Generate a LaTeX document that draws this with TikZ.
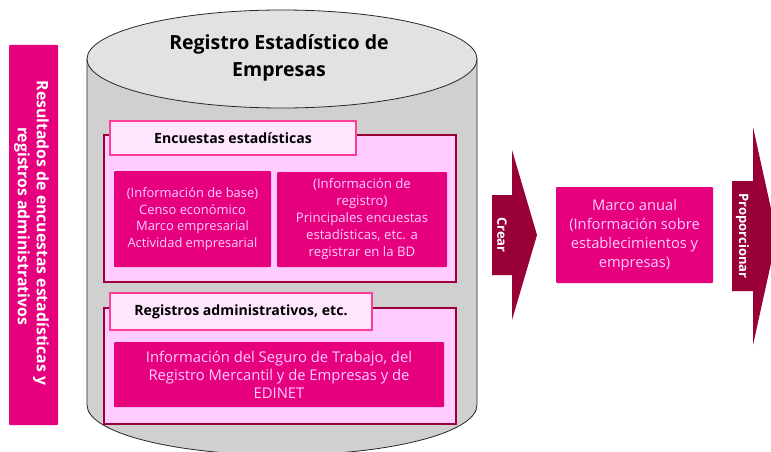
\documentclass[tikz,border=0pt]{standalone}
\usepackage{fontspec}
\setmainfont{Open Sans}
\definecolor{mag}{RGB}{230,0,126}
\definecolor{crim}{RGB}{153,0,56}
\definecolor{lpink}{RGB}{255,204,255}
\definecolor{tabfill}{RGB}{255,230,255}
\definecolor{hotpink}{RGB}{255,60,150}
\definecolor{cylbody}{RGB}{208,208,208}
\definecolor{cyltop}{RGB}{226,226,226}
\tikzset{
  magbox/.style={fill=mag, draw=none, rounded corners=1pt, inner sep=0pt, text=lpink, align=center},
  framebox/.style={fill=lpink, draw=crim, line width=1.5pt, inner sep=0pt},
  tabbox/.style={fill=tabfill, draw=hotpink, line width=1.5pt, inner sep=0pt, align=center},
  arrowshape/.style={fill=crim, draw=none},
  arrowtext/.style={text=white, font=\fontsize{13}{15}\selectfont\bfseries, rotate=-90},
  bartext/.style={text=white, font=\fontsize{15.8}{18}\selectfont\bfseries, rotate=-90, inner sep=0pt},
}
\begin{document}
\begin{tikzpicture}[x=1pt,y=-1pt]
\useasboundingbox (0,0) rectangle (771,452);
% left bar
\node[magbox, minimum width=49pt, minimum height=380pt] (leftbar) at (33.5,235) {};
\node[bartext] (lefttext1) at (41,233) {Resultados de encuestas estadísticas y};
\node[bartext] (lefttext2) at (22,226) {registros administrativos};
% cylinder
\path[draw=black!85, line width=0.8pt, fill=cylbody] (87,59) -- (87,405) arc[start angle=180, end angle=360, x radius=195pt, y radius=50pt] -- (477,59) -- cycle;
\draw[black!85, line width=0.8pt, fill=cyltop] (282,59) ellipse[x radius=195pt, y radius=49pt];
\node[align=center, font=\fontsize{19.5}{27}\selectfont\bfseries] (title) at (279,58) {Registro Estadístico de\\Empresas};
% encuestas group
\node[framebox, minimum width=352pt, minimum height=147pt] (encframe) at (280,208.5) {};
\node[tabbox, minimum width=246pt, minimum height=34pt, font=\fontsize{14.1}{17}\selectfont\bfseries] (enctab) at (233,138) {Encuestas estadísticas};
\node[magbox, minimum width=157pt, minimum height=96pt, font=\fontsize{12.9}{16.5}\selectfont] (base) at (192.5,219) {(Información de base)\\Censo económico\\Marco empresarial\\Actividad empresarial};
\node[magbox, minimum width=170pt, minimum height=95pt, font=\fontsize{13.2}{17}\selectfont] (regis) at (362,219.5) {(Información de\\registro)\\Principales encuestas\\estadísticas, etc. a\\registrar en la BD};
% registros group
\node[framebox, minimum width=352pt, minimum height=116pt] (regframe) at (280,366) {};
\node[tabbox, minimum width=262pt, minimum height=37pt, font=\fontsize{14.1}{17}\selectfont\bfseries] (regtab) at (241,311.5) {Registros administrativos, etc.};
\node[magbox, minimum width=330pt, minimum height=65pt, font=\fontsize{14.8}{18}\selectfont] (admin) at (279,374.5) {Información del Seguro de Trabajo, del\\Registro Mercantil y de Empresas y de\\EDINET};
% Crear arrow
\path[arrowshape] (492,195) -- (512,195) -- (512,150) -- (537,235) -- (512,320) -- (512,275) -- (492,275) -- cycle;
\node[arrowtext] (crear) at (502,235) {Crear};
% Marco
\node[magbox, minimum width=157pt, minimum height=96pt, font=\fontsize{14.7}{19}\selectfont] (marco) at (634.5,235) {Marco anual\\(Información sobre\\establecimientos y\\empresas)};
% Proporcionar arrow
\path[arrowshape] (732,181) -- (753,181) -- (753,127) -- (777,236) -- (753,345) -- (753,291) -- (732,291) -- cycle;
\node[arrowtext] (prop) at (742.5,236) {Proporcionar};
\end{tikzpicture}
\end{document}
